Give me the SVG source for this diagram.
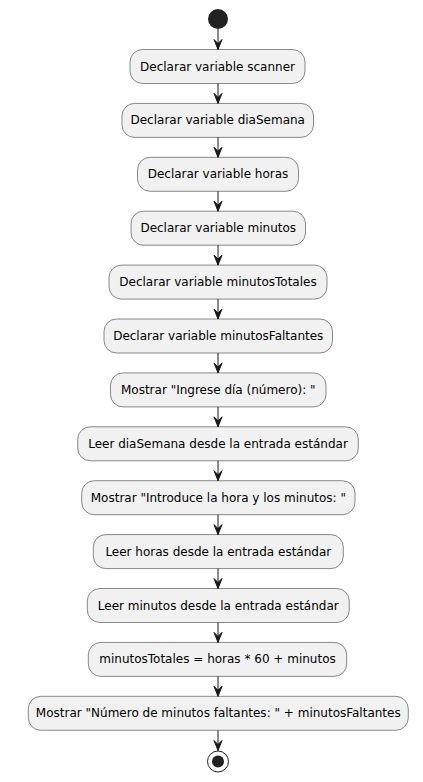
<svg xmlns="http://www.w3.org/2000/svg" width="423" height="782" viewBox="0 0 423 782">
<defs>
<style>
.box{fill:#F1F1F1;stroke:#181818;stroke-width:0.5}
.t{font-family:"DejaVu Sans",sans-serif;font-size:12px;fill:#000;text-anchor:middle}
.ln{stroke:#181818;stroke-width:1;fill:none}
.ah{fill:#181818;stroke:#181818;stroke-width:1}
</style>
</defs>
<rect width="423" height="782" fill="#FFFFFF"/>
<g id="start"><circle cx="218" cy="19" r="10" fill="#222222"/></g>
<g id="n1"><rect class="box" x="130" y="49.5" width="175" height="34" rx="12.5"/><text class="t" x="217.5" y="70.5">Declarar variable scanner</text></g>
<g id="n2"><rect class="box" x="122" y="103.4" width="191.5" height="34" rx="12.5"/><text class="t" x="217.75" y="124.4">Declarar variable diaSemana</text></g>
<g id="n3"><rect class="box" x="137.5" y="157.3" width="161" height="34" rx="12.5"/><text class="t" x="218" y="178.3">Declarar variable horas</text></g>
<g id="n4"><rect class="box" x="131" y="211.2" width="174.5" height="34" rx="12.5"/><text class="t" x="218.25" y="232.2">Declarar variable minutos</text></g>
<g id="n5"><rect class="box" x="109" y="265.1" width="218" height="34" rx="12.5"/><text class="t" x="218" y="286.1">Declarar variable minutosTotales</text></g>
<g id="n6"><rect class="box" x="104" y="319" width="228.5" height="34" rx="12.5"/><text class="t" x="218.25" y="340">Declarar variable minutosFaltantes</text></g>
<g id="n7"><rect class="box" x="110.5" y="372.9" width="215.5" height="34" rx="12.5"/><text class="t" x="218.25" y="393.9">Mostrar "Ingrese día (número): "</text></g>
<g id="n8"><rect class="box" x="77.7" y="426.8" width="280.6" height="34" rx="12.5"/><text class="t" x="218" y="447.8">Leer diaSemana desde la entrada estándar</text></g>
<g id="n9"><rect class="box" x="81.7" y="480.7" width="273.3" height="34" rx="12.5"/><text class="t" x="218.35" y="501.7">Mostrar "Introduce la hora y los minutos: "</text></g>
<g id="n10"><rect class="box" x="93.3" y="534.6" width="250" height="34" rx="12.5"/><text class="t" x="218.3" y="555.6">Leer horas desde la entrada estándar</text></g>
<g id="n11"><rect class="box" x="87.3" y="588.5" width="262" height="34" rx="12.5"/><text class="t" x="218.3" y="609.5">Leer minutos desde la entrada estándar</text></g>
<g id="n12"><rect class="box" x="88.3" y="642.4" width="258.4" height="34" rx="12.5"/><text class="t" x="217.5" y="663.4">minutosTotales = horas * 60 + minutos</text></g>
<g id="n13"><rect class="box" x="28.3" y="696.3" width="380" height="34" rx="12.5"/><text class="t" x="218.3" y="717.3">Mostrar "Número de minutos faltantes: " + minutosFaltantes</text></g>
<g id="end"><circle cx="218" cy="761.5" r="10.5" fill="none" stroke="#222222" stroke-width="1"/><circle cx="218" cy="761.5" r="6" fill="#222222"/></g>
<g id="connectors">
<path class="ln" d="M218 29 V49.5 M218 83.5 V103.4 M218 137.4 V157.3 M218 191.3 V211.2 M218 245.2 V265.1 M218 299.1 V319 M218 353 V372.9 M218 406.9 V426.8 M218 460.8 V480.7 M218 514.7 V534.6 M218 568.6 V588.5 M218 622.5 V642.4 M218 676.4 V696.3 M218 730.3 V750.5"/>
<g class="ah">
<polygon points="214,39.5 218,49.5 222,39.5 218,43.5"/>
<polygon points="214,93.4 218,103.4 222,93.4 218,97.4"/>
<polygon points="214,147.3 218,157.3 222,147.3 218,151.3"/>
<polygon points="214,201.2 218,211.2 222,201.2 218,205.2"/>
<polygon points="214,255.1 218,265.1 222,255.1 218,259.1"/>
<polygon points="214,309 218,319 222,309 218,313"/>
<polygon points="214,362.9 218,372.9 222,362.9 218,366.9"/>
<polygon points="214,416.8 218,426.8 222,416.8 218,420.8"/>
<polygon points="214,470.7 218,480.7 222,470.7 218,474.7"/>
<polygon points="214,524.6 218,534.6 222,524.6 218,528.6"/>
<polygon points="214,578.5 218,588.5 222,578.5 218,582.5"/>
<polygon points="214,632.4 218,642.4 222,632.4 218,636.4"/>
<polygon points="214,686.3 218,696.3 222,686.3 218,690.3"/>
<polygon points="214,740.5 218,750.5 222,740.5 218,744.5"/>
</g>
</g>
</svg>
